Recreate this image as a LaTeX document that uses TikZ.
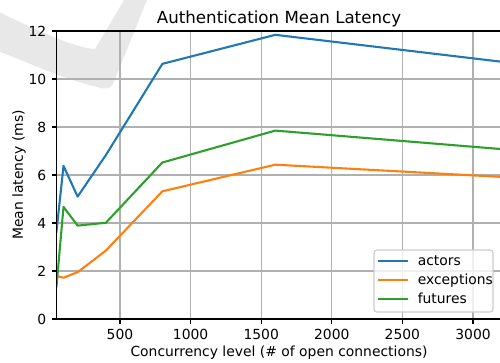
\documentclass[tikz,border=0pt]{standalone}
\usepackage{fontspec}
\setmainfont{DejaVu Sans}
\usetikzlibrary{positioning}
\definecolor{actorsblue}{HTML}{1F77B4}
\definecolor{exceptorange}{HTML}{FF7F0E}
\definecolor{futuresgreen}{HTML}{2CA02C}
\definecolor{gridgray}{HTML}{B0B0B0}
\definecolor{legendgray}{HTML}{CCCCCC}

\begin{document}
\begin{tikzpicture}[x=0.72pt, y=0.72pt, font=\fontsize{10}{12}\selectfont,
    gridline/.style={draw=gridgray, line width=0.8pt},
    spine/.style={draw=black, line width=0.8pt, line cap=rect},
    tickmark/.style={draw=black, line width=0.8pt},
    series/.style={line width=1.5pt, line join=round, line cap=rect},
    ticklabel/.style={inner sep=0pt}]
    \useasboundingbox (0,0) rectangle (500,363);
    \fill[black!9] (-5,353) .. controls (40,331) and (75,315) .. (95,314) -- (127,368) -- (149,368) -- (113,279)
        .. controls (110,273) and (103,274) .. (97,276) .. controls (60,285) and (30,300) .. (-5,313) -- cycle;
    \node[font=\fontsize{12}{14}\selectfont, anchor=base] (title) at (279,339.7) {Authentication Mean Latency};
    \node[anchor=base] (xlabel) at (279,6) {Concurrency level (\# of open connections)};
    \node[anchor=base, rotate=90] (ylabel) at (23,188) {Mean latency (ms)};
    \begin{scope}[shift={(35.568pt,31.68pt)}, x=0.101664pt, y=17.28pt]
        \foreach \gx in {500,1000,...,3000}
            \draw[gridline] (\gx,0) -- (\gx,12);
        \foreach \gy in {2,4,...,10}
            \draw[gridline] (50,\gy) -- (3200,\gy);
        \begin{scope}
            \clip (50,0) rectangle (3200,12);
            \draw[series, actorsblue] (50,3.64) -- (100,6.38) -- (200,5.1) -- (400,6.83) -- (800,10.63) -- (1600,11.84) -- (3200,10.72);
            \draw[series, exceptorange] (50,1.79) -- (100,1.72) -- (200,1.95) -- (400,2.85) -- (800,5.32) -- (1600,6.43) -- (3200,5.92);
            \draw[series, futuresgreen] (50,1.35) -- (100,4.67) -- (200,3.89) -- (400,4.01) -- (800,6.52) -- (1600,7.85) -- (3200,7.08);
        \end{scope}
        \draw[spine] (50,0) rectangle (3200,12);
        \foreach \gy in {0,2,...,12}
            \draw[tickmark] (50,\gy) -- ++(-3.5pt,0) node[ticklabel, anchor=east, xshift=-3.5pt] (ytick\gy) {\gy};
        \foreach \gx in {500,1000,...,3000}
            \draw[tickmark] (\gx,0) -- ++(0,-3.5pt) node[ticklabel, anchor=north, yshift=-3.5pt] (xtick\gx) {\gx};
    \end{scope}
    \draw[legendgray, fill=white, fill opacity=0.8, line width=0.8pt, rounded corners=2] (374,113) rectangle (493,51);
    \draw[series, actorsblue] (379,102.3) -- (407,102.3);
    \draw[series, exceptorange] (379,83) -- (407,83);
    \draw[series, futuresgreen] (379,64) -- (407,64);
    \node[anchor=base west, inner sep=0pt] (legactors) at (417.5,97.9) {actors};
    \node[anchor=base west, inner sep=0pt] (legexceptions) at (417.5,78.6) {exceptions};
    \node[anchor=base west, inner sep=0pt] (legfutures) at (417.5,59.6) {futures};
\end{tikzpicture}
\end{document}
